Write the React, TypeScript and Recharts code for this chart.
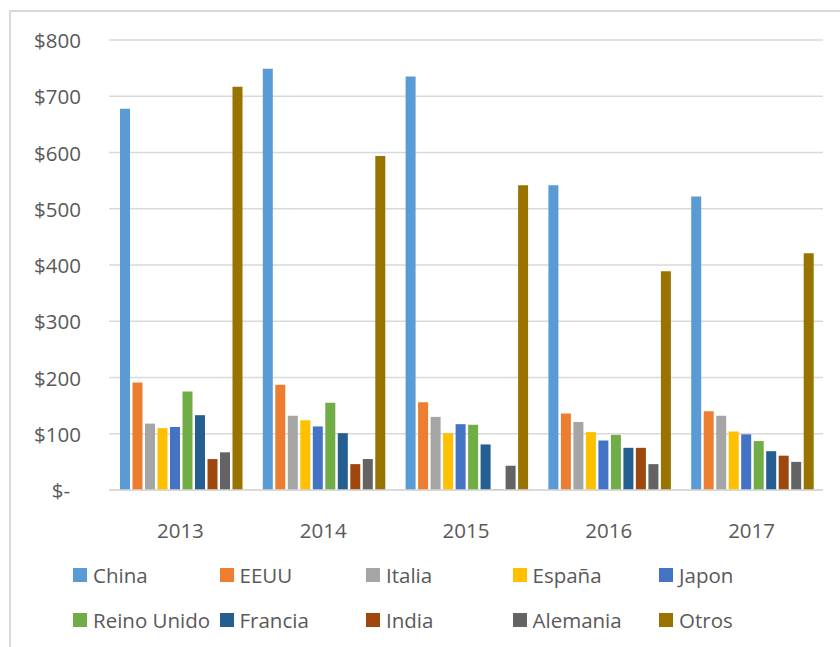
import { Bar, BarChart, CartesianGrid, XAxis, YAxis } from 'recharts'

const YEARS = ['2013', '2014', '2015', '2016', '2017']
const COUNTRIES = ['China', 'EEUU', 'Italia', 'España', 'Japon', 'Reino Unido', 'Francia', 'India', 'Alemania', 'Otros']
const COLORS = ['#5B9BD5', '#ED7D31', '#A5A5A5', '#FFC000', '#4472C4', '#70AD47', '#255E91', '#9E480E', '#636363', '#997300']

const china = [678, 749, 735, 542, 522]
const eeuu = [191, 187, 156, 136, 140]
const italia = [118, 132, 130, 121, 132]
const espana = [110, 124, 101, 103, 104]
const japon = [112, 113, 117, 88, 99]
const reinoUnido = [175, 155, 116, 98, 87]
const francia = [133, 101, 81, 75, 69]
const india = [55, 46, 1, 75, 61]
const alemania = [67, 55, 43, 46, 50]
const otros = [717, 594, 542, 389, 421]

const Y_TICKS = [0, 100, 200, 300, 400, 500, 600, 700, 800]

const SERIES = [china, eeuu, italia, espana, japon, reinoUnido, francia, india, alemania, otros]

const data = YEARS.map((year, i) => {
  const row: Record<string, string | number> = { year }
  COUNTRIES.forEach((c, k) => { row[c] = SERIES[k][i] })
  return row
})

const FONT = '"Open Sans", sans-serif'
const TEXT = '#595959'

function YTick({ y, payload }: any) {
  const v = Number(payload.value)
  return (
    <text x={v === 0 ? 70 : 81} y={y} textAnchor="end" dominantBaseline="central"
      fill={TEXT} fontSize={20.5} fontFamily={FONT}>
      {v === 0 ? '$-' : `$${v}`}
    </text>
  )
}

function XTick({ x, y, payload }: any) {
  return (
    <text x={x} y={y + 32} textAnchor="middle" dominantBaseline="central"
      fill={TEXT} fontSize={20.5} fontFamily={FONT}>
      {payload.value}
    </text>
  )
}

export default function App() {
  return (
    <div style={{ position: 'absolute', left: 0, top: 0, width: 840, height: 647, overflow: 'hidden', background: '#fff' }}>
      {/* marco del gráfico, sale del recorte por derecha y abajo */}
      <div style={{ position: 'absolute', left: 9, top: 10, width: 900, height: 700, border: '2px solid #d9d9d9' }} />
      <div style={{ position: 'absolute', left: 0, top: 0 }}>
        <BarChart width={840} height={647} data={data}
          margin={{ top: 40, right: 17, left: 0, bottom: 117 }}
          barCategoryGap={11} barGap={2.5}>
          <CartesianGrid vertical={false} stroke="#d9d9d9" strokeWidth={1.3} />
          <XAxis dataKey="year" height={40} axisLine={{ stroke: '#d9d9d9', strokeWidth: 1.3 }} tickLine={false} tick={<XTick />} interval={0} />
          <YAxis width={109} domain={[0, 800]} ticks={Y_TICKS} axisLine={false} tickLine={false} tick={<YTick />} interval={0} />
          {COUNTRIES.map((c, k) => (
            <Bar key={c} dataKey={c} fill={COLORS[k]} isAnimationActive={false} />
          ))}
        </BarChart>
      </div>
      {COUNTRIES.map((c, k) => {
        const col = k % 5
        const row = Math.floor(k / 5)
        return (
          <div key={c} style={{
            position: 'absolute', left: 73 + col * 146.5, top: 575 + row * 45 - 15,
            height: 30, display: 'flex', alignItems: 'center', fontFamily: FONT, fontSize: 20.5, color: TEXT, whiteSpace: 'nowrap',
          }}>
            <span style={{ display: 'inline-block', width: 14, height: 14, background: COLORS[k], marginRight: 6 }} />
            {c}
          </div>
        )
      })}
    </div>
  )
}
